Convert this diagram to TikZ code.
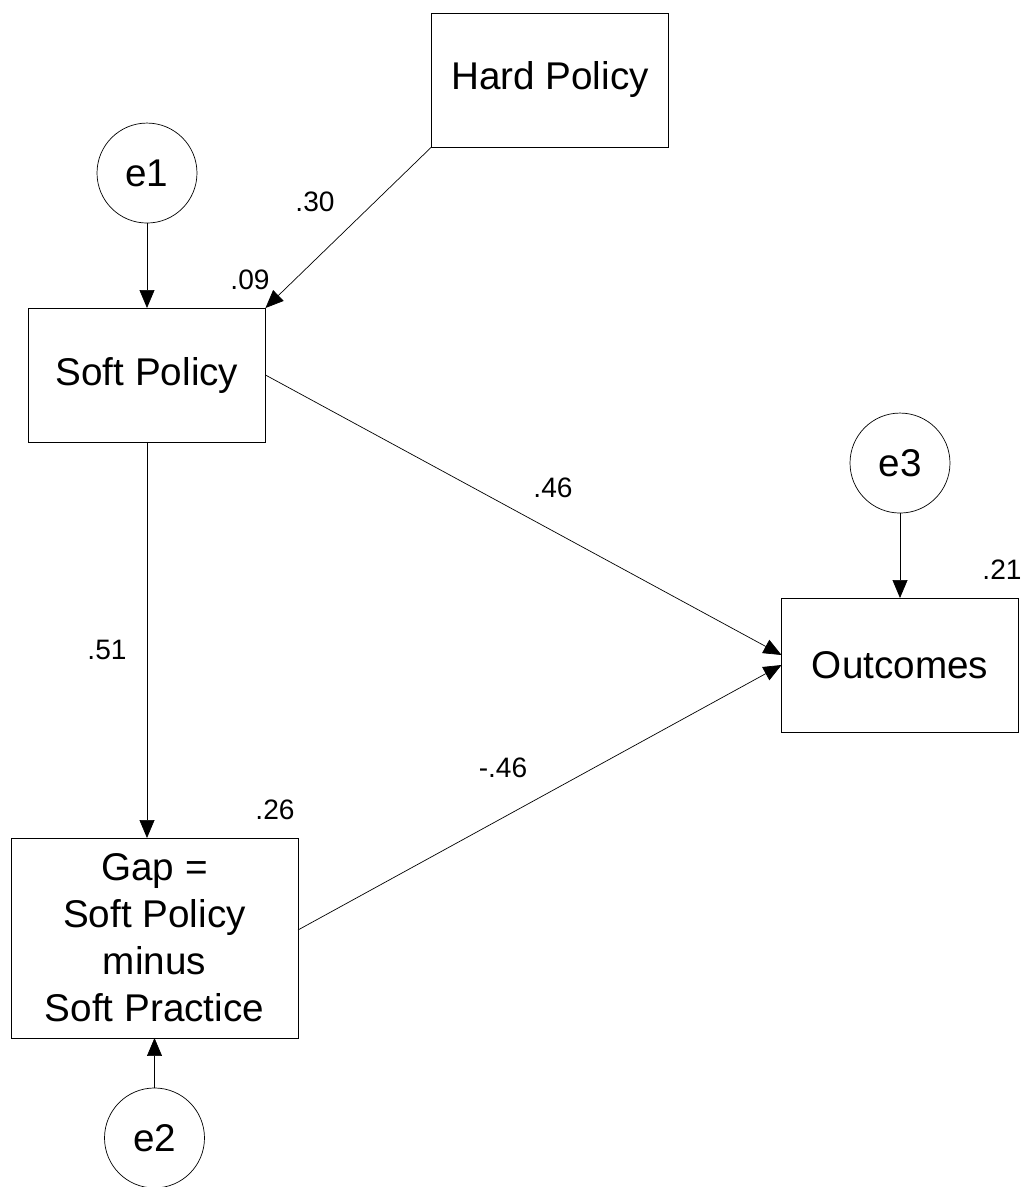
\documentclass[tikz,border=0pt]{standalone}
\usepackage{fontspec}
\setmainfont{Liberation Sans}
\usetikzlibrary{positioning, arrows.meta}
\tikzset{
->, % every path is a directed effect
>={Triangle[length=0.36cm, width=0.3cm]}, % solid heads
line width=0.6pt,
node distance=1.7cm, % space between a residual and its box
observed/.style={draw, rectangle, minimum width=4.74cm, minimum height=2.68cm, inner sep=0pt, outer sep=0pt, font=\fontsize{22}{26.7}\selectfont}, % measured variables
resid/.style={draw, circle, minimum size=2cm, inner sep=0pt, outer sep=0pt, font=\fontsize{22}{26.7}\selectfont}, % error terms
coef/.style={inner sep=0pt, font=\fontsize{16}{19}\selectfont}, % estimates
}

\begin{document}
\begin{tikzpicture}[x=0.02cm, y=-0.02cm]
            \useasboundingbox (0,0) rectangle (1026,1187);
            \node[observed] (hard) at (550,80) {Hard Policy};
            \node[observed] (soft) at (147,375) {Soft Policy};
            \node[observed] (outc) at (900,665) {Outcomes};
            \node[observed, minimum width=5.74cm, minimum height=4cm, align=center] (gap) at (154.5,938) {Gap =\\Soft Policy\\minus\\Soft Practice};
            \node[resid, above=of soft] (e1) {e1};
            \node[resid, above=of outc] (e3) {e3};
            \node[resid, below=1cm of gap] (e2) {e2};
            \path
                (e1) edge (soft)
                (hard.south west) edge (soft.north east)
                (soft.east) edge ([yshift=0.2cm]outc.west)
                (soft.south) edge (soft.south |- gap.north)
                ([yshift=0.16cm]gap.east) edge (outc.west)
                (e3) edge (outc)
                (e2) edge (gap)
                ;
            \node[coef] (b1) at (315,202) {.30};
            \node[coef] (r1) at (250,280) {.09};
            \node[coef] (b2) at (553,488) {.46};
            \node[coef] (b3) at (107,650) {.51};
            \node[coef] (r3) at (1002,570) {.21};
            \node[coef] (b4) at (503,768) {-.46};
            \node[coef] (r2) at (275,810) {.26};
            \end{tikzpicture}
\end{document}
